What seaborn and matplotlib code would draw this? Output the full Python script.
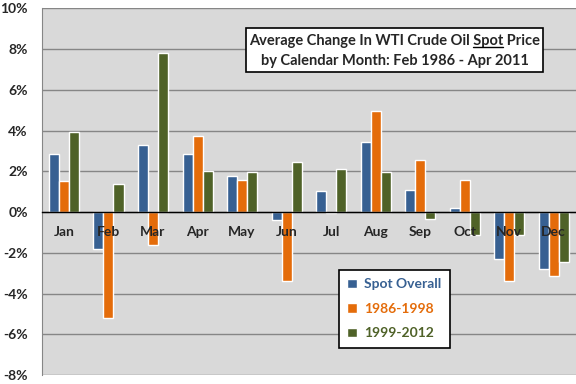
import numpy as np
import pandas as pd
import matplotlib.pyplot as plt
import matplotlib.patches as mpatches
from matplotlib.ticker import FuncFormatter
import seaborn as sns

months = ['Jan', 'Feb', 'Mar', 'Apr', 'May', 'Jun', 'Jul', 'Aug', 'Sep', 'Oct', 'Nov', 'Dec']
spot_overall = [2.86, -1.80, 3.30, 2.86, 1.78, -0.38, 1.04, 3.44, 1.09, 0.21, -2.29, -2.81]
p1986_1998 = [1.53, -5.22, -1.60, 3.74, 1.58, -3.40, -0.07, 4.96, 2.56, 1.58, -3.40, -3.15]
p1999_2012 = [3.93, 1.40, 7.81, 2.00, 1.97, 2.46, 2.12, 1.97, -0.36, -1.15, -1.11, -2.47]
series = ['Spot Overall', '1986-1998', '1999-2012']
colors = ['#376092', '#E46C0A', '#4F6228']

df = pd.DataFrame({
    'month': months * 3,
    'value': spot_overall + p1986_1998 + p1999_2012,
    'series': np.repeat(series, len(months)),
})

sns.set_style('white')
plt.rcParams['font.family'] = ['Lato', 'DejaVu Sans']
plt.rcParams['font.weight'] = 'bold'

fig = plt.figure(figsize=(5.76, 3.84), dpi=100)
ax = fig.add_axes([0.0724, 0.0234, 0.9276, 0.9549])
ax.set_facecolor('#d9d9d9')

sns.barplot(data=df, x='month', y='value', hue='series', order=months,
            hue_order=series, palette=colors, saturation=1, width=0.675,
            errorbar=None, ax=ax)

ax.set_axisbelow(False)
ax.set_ylim(-8, 10)
yticks = list(range(-8, 11, 2))
ax.set_yticks(yticks)
ax.yaxis.set_major_formatter(FuncFormatter(lambda v, p: f'{v:.0f}%'))
for yt in yticks:
    ax.axhline(yt, color='#868686', lw=1, zorder=0)
ax.set_xlim(-0.5, 11.5)
ax.set_xlabel('')
ax.set_ylabel('')

for s in ['top', 'right']:
    ax.spines[s].set_visible(False)
ax.spines['left'].set_color('#868686')
ax.spines['bottom'].set_position(('data', 0))
ax.spines['bottom'].set_color('black')
ax.spines['bottom'].set_linewidth(1)

ax.tick_params(axis='y', length=0, pad=10, labelsize=10)
ax.tick_params(axis='x', which='major', length=0, pad=10, labelsize=10)
ax.set_xticks(np.arange(-0.5, 12, 1), minor=True)
ax.tick_params(axis='x', which='minor', length=4, width=1, color='black', direction='out')
for t in ax.get_xticklabels() + ax.get_yticklabels():
    t.set_fontweight('bold')

# title box
box = mpatches.Rectangle((246 / 576, 1 - 72 / 384), 297 / 576, 44 / 384,
                         transform=fig.transFigure, facecolor='white',
                         edgecolor='black', lw=1.2, zorder=5)
fig.patches.append(box)
cx = 394.5 / 576
line1 = 'Average Change In WTI Crude Oil Spot Price'
t1 = fig.text(cx, 1 - 41 / 384, line1, ha='center', va='center',
              fontsize=10.5, fontweight='bold', zorder=6)
fig.text(cx, 1 - 61 / 384, 'by Calendar Month: Feb 1986 - Apr 2011',
         ha='center', va='center', fontsize=10.5, fontweight='bold', zorder=6)

# underline "Spot"
fig.canvas.draw()
r = fig.canvas.get_renderer()
def width_of(s):
    tmp = fig.text(0, 0, s, fontsize=10.5, fontweight='bold')
    w = tmp.get_window_extent(r).width
    tmp.remove()
    return w
full = t1.get_window_extent(r)
w_pre = width_of('Average Change In WTI Crude Oil Spot')
w_spot = width_of('Spot')
x1 = full.x0 + w_pre
x0 = x1 - w_spot
uy = full.y0 + 1
fig.add_artist(plt.Line2D([x0 / 576, x1 / 576], [uy / 384, uy / 384],
                          transform=fig.transFigure, color='black', lw=1, zorder=7))

# legend
h, l = ax.get_legend_handles_labels()
leg = ax.legend(h, l, loc='upper left', bbox_to_anchor=(339 / 576, 1 - 270 / 384),
                bbox_transform=fig.transFigure, frameon=True, fancybox=False,
                edgecolor='black', framealpha=1, handlelength=0.7, handleheight=0.7,
                handletextpad=0.5, labelspacing=0.9, borderaxespad=0,
                borderpad=0.6, prop={'weight': 'bold', 'size': 10})
leg.get_frame().set_linewidth(1.2)
leg.set_zorder(8)
for txt, c in zip(leg.get_texts(), colors):
    txt.set_color(c)

fig.savefig('out.png', dpi=100)
